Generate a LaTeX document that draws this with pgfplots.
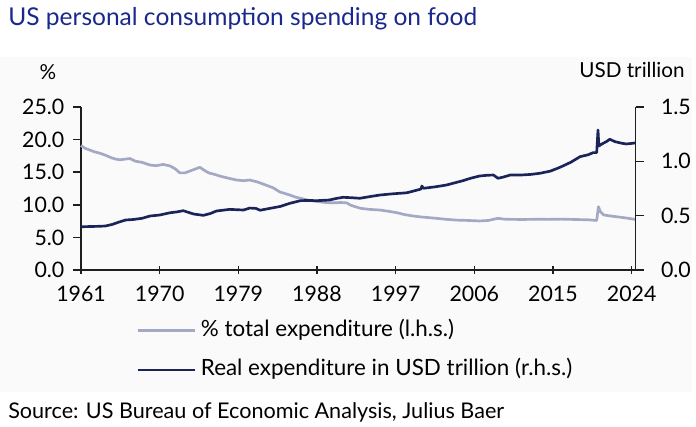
\documentclass[border=0pt]{standalone}
\usepackage{fontspec}
\setmainfont{Lato}
\usepackage{pgfplots}
\pgfplotsset{compat=1.18}
\definecolor{navy}{RGB}{27,36,89}
\definecolor{lgray}{RGB}{163,168,196}
\definecolor{titleblue}{RGB}{25,40,140}
\definecolor{panel}{RGB}{250,250,250}
\definecolor{axcol}{RGB}{30,30,30}

\pgfplotstableread{
year val
1961.0 19.1
1961.4 18.7
1962.0 18.4
1962.6 18.1
1963.2 17.9
1963.8 17.6
1964.5 17.2
1965.0 17.0
1965.5 16.9
1966.0 17.0
1966.6 17.1
1967.2 16.7
1968.0 16.5
1968.9 16.1
1969.6 16.0
1970.4 16.2
1971.2 15.95
1971.8 15.5
1972.3 14.9
1972.9 14.9
1973.5 15.2
1974.1 15.5
1974.6 15.75
1975.1 15.3
1975.6 14.9
1976.2 14.7
1976.9 14.4
1977.8 14.1
1978.8 13.8
1979.6 13.7
1980.3 13.8
1981.2 13.5
1982.2 13.0
1983.0 12.6
1983.7 12.0
1984.4 11.7
1984.9 11.5
1985.5 11.2
1986.1 11.0
1987.0 10.7
1988.0 10.5
1989.0 10.35
1989.9 10.3
1990.7 10.35
1991.4 10.3
1991.8 9.97
1992.4 9.7
1993.0 9.46
1994.0 9.3
1995.2 9.2
1996.2 9.0
1997.1 8.8
1998.0 8.5
1999.0 8.28
2000.2 8.1
2001.5 7.95
2002.8 7.77
2004.0 7.65
2005.3 7.6
2006.6 7.52
2007.6 7.6
2008.7 7.93
2009.4 7.8
2010.1 7.77
2011.5 7.75
2013.0 7.78
2014.5 7.77
2016.0 7.8
2017.5 7.75
2019.0 7.7
2020.0 7.6
2020.2 9.71
2020.4 9.0
2020.8 8.44
2021.5 8.3
2022.7 8.1
2023.5 7.95
2024.46 7.75
}\sharetable

\pgfplotstableread{
year val
1961.0 0.398
1962.0 0.400
1963.0 0.402
1963.8 0.405
1964.6 0.42
1965.3 0.44
1966.1 0.46
1967.0 0.465
1968.0 0.476
1968.9 0.497
1970.0 0.506
1971.2 0.527
1972.0 0.535
1972.7 0.546
1973.3 0.53
1973.9 0.515
1975.0 0.503
1975.8 0.52
1976.5 0.543
1978.0 0.558
1979.6 0.552
1980.3 0.57
1981.0 0.567
1981.5 0.55
1982.6 0.567
1983.8 0.585
1984.9 0.614
1986.1 0.638
1987.0 0.64
1988.0 0.638
1989.4 0.644
1990.3 0.66
1991.0 0.669
1992.0 0.665
1992.9 0.66
1994.0 0.675
1995.2 0.690
1996.5 0.70
1998.3 0.711
1999.2 0.73
1999.9 0.745
2000.0 0.773
2000.2 0.752
2001.5 0.765
2002.8 0.782
2004.7 0.822
2005.6 0.845
2006.6 0.865
2007.5 0.872
2008.2 0.874
2008.7 0.844
2009.3 0.855
2010.1 0.874
2011.5 0.875
2012.5 0.88
2013.5 0.890
2014.7 0.91
2015.8 0.945
2017.0 0.99
2018.1 1.043
2019.0 1.06
2019.6 1.080
2020.0 1.08
2020.15 1.288
2020.25 1.141
2020.6 1.16
2021.1 1.181
2021.5 1.203
2022.1 1.181
2022.9 1.166
2023.4 1.16
2024.0 1.165
2024.46 1.17
}\realtable

\begin{document}
\begin{tikzpicture}
\begin{scope}[x=0.75pt,y=0.75pt]
\path[use as bounding box] (0,0) rectangle (696,426);
\fill[panel] (0,34) rectangle (692,369);
\node[anchor=base west, inner sep=0, text=titleblue, font=\fontsize{18.4}{22}\selectfont] at (8,401) {US personal consumption spending on food};
\node[anchor=base west, inner sep=0, font=\fontsize{16.2}{19}\selectfont] at (8,8) {Source: US Bureau of Economic Analysis, Julius Baer};
\node[inner sep=0, font=\fontsize{15.5}{18}\selectfont] at (48,354) {\%};
\node[inner sep=0, font=\fontsize{15.5}{18}\selectfont] at (632,356) {USD trillion};
\end{scope}

\begin{axis}[
  at={(60.75pt,117pt)}, anchor=south west,
  scale only axis, width=416pt, height=122.25pt,
  xmin=1961, xmax=2024.46, ymin=0, ymax=25,
  axis x line*=bottom, axis y line*=left,
  xtick={1961,1970,1979,1988,1997,2006,2015,2024},
  ytick={0,5,10,15,20,25},
  xtick align=center, ytick align=outside,
  major tick length=6pt,
  axis line style={line width=1.1pt, axcol},
  tick style={line width=1.1pt, axcol},
  every tick label/.append style={font=\fontsize{16}{19}\selectfont},
  /pgf/number format/assume math mode=true,
  xticklabel style={/pgf/number format/1000 sep={}, yshift=-5.5pt},
  yticklabel style={/pgf/number format/.cd, fixed, fixed zerofill, precision=1, /tikz/xshift=-3pt},
  clip=false,
]
\addplot[lgray, line width=2pt, line join=round] table[x=year,y=val] {\sharetable};
\end{axis}

\begin{axis}[
  at={(60.75pt,117pt)}, anchor=south west,
  scale only axis, width=416pt, height=122.25pt,
  xmin=1961, xmax=2024.46, ymin=0, ymax=1.5,
  axis x line=none, axis y line*=right,
  ytick={0,0.5,1,1.5},
  ytick align=outside,
  major tick length=6pt,
  axis line style={line width=1.1pt, axcol},
  tick style={line width=1.1pt, axcol},
  every tick label/.append style={font=\fontsize{16}{19}\selectfont},
  /pgf/number format/assume math mode=true,
  yticklabel style={/pgf/number format/.cd, fixed, fixed zerofill, precision=1, /tikz/xshift=9.5pt},
  clip=false,
  legend style={at={(axis description cs:0.0992,-0.492)}, anchor=west, draw=none, fill=none,
    inner sep=0pt, row sep=14pt,
    nodes={inner sep=0pt, text height=12pt, text depth=3.5pt, font=\fontsize{16.8}{20}\selectfont}},
  legend cell align=left,
  legend image code/.code={\draw[#1] (0pt,0pt) -- (42.75pt,0pt);},
  /tikz/every odd column/.append style={column sep=3.75pt},
]
\addlegendimage{lgray, line width=2pt}
\addlegendentry{\% total expenditure (l.h.s.)}
\addplot[navy, line width=2pt, line join=round] table[x=year,y=val] {\realtable};
\addlegendentry{Real expenditure in USD trillion (r.h.s.)}
\end{axis}
\end{tikzpicture}
\end{document}
